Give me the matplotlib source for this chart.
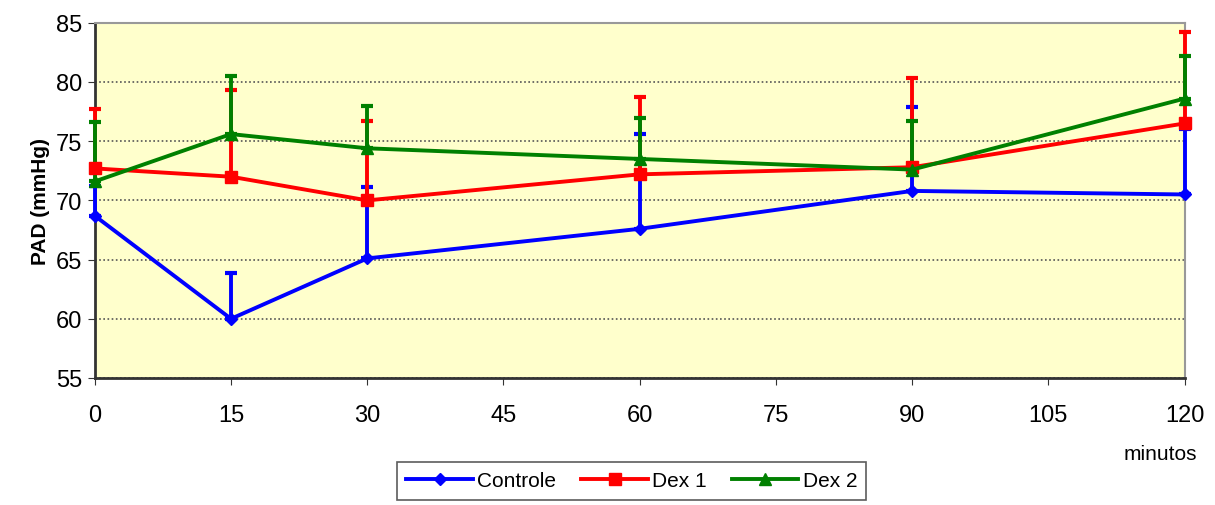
import matplotlib.pyplot as plt
from matplotlib.lines import Line2D
import numpy as np

plt.rcParams['font.family'] = ['Liberation Sans', 'DejaVu Sans']

# dados
minutos = [0, 15, 30, 60, 90, 120]
controle = [68.7, 60.0, 65.1, 67.6, 70.8, 70.5]
controle_sd = [2.5, 3.9, 6.0, 8.0, 7.1, 5.5]
dex1 = [72.7, 72.0, 70.0, 72.2, 72.8, 76.5]
dex1_sd = [5.0, 7.3, 6.7, 6.5, 7.5, 7.7]
dex2 = [71.6, 75.6, 74.4, 73.5, 72.6, 78.6]
dex2_sd = [5.0, 4.9, 3.6, 3.5, 4.1, 3.6]

fig = plt.figure(figsize=(12.15, 5.06), dpi=100)
ax = fig.add_axes([0.078, 0.251, 0.897, 0.702])
ax.set_facecolor('#FFFFCC')

series = [
    ('Controle', controle, controle_sd, '#0000FF', 'D', 6),
    ('Dex 1', dex1, dex1_sd, '#FF0000', 's', 8),
    ('Dex 2', dex2, dex2_sd, '#008000', '^', 8),
]
handles = []
for nome, vals, sd, cor, mk, ms in series:
    ax.errorbar(minutos, vals, yerr=[np.zeros(len(sd)), sd], color=cor,
                lw=2.8, marker=mk, ms=ms, capsize=4, capthick=3,
                elinewidth=2.8, clip_on=False, zorder=3)
    handles.append(Line2D([], [], color=cor, lw=2.8, marker=mk, ms=ms, label=nome))

ax.set_xlim(0, 120)
ax.set_ylim(55, 85)
ax.set_xticks(range(0, 121, 15))
ax.set_yticks(range(55, 86, 5))
ax.tick_params(labelsize=17, direction='out', length=5, color='#333333', pad=14)
ax.tick_params(axis='y', pad=4)
ax.yaxis.grid(True, linestyle=(0, (1, 1.5)), color='#555555', lw=1.2)
ax.set_axisbelow(True)
for s in ['top', 'right']:
    ax.spines[s].set_color('#999999')
    ax.spines[s].set_linewidth(1.5)
for s in ['left', 'bottom']:
    ax.spines[s].set_color('#333333')
    ax.spines[s].set_linewidth(2)

ax.set_ylabel('PAD (mmHg)', fontsize=15, fontweight='bold', labelpad=4)
fig.text(0.955, 0.09, 'minutos', fontsize=15, ha='center')

leg = fig.legend(handles=handles, loc='lower center', bbox_to_anchor=(0.52, -0.01),
                 ncol=3, fontsize=15, frameon=True, fancybox=False,
                 edgecolor='#333333', handlelength=3.2, columnspacing=1.2,
                 handletextpad=0.2, borderpad=0.45)
leg.get_frame().set_linewidth(1.2)

fig.savefig('out.png', dpi=100)
